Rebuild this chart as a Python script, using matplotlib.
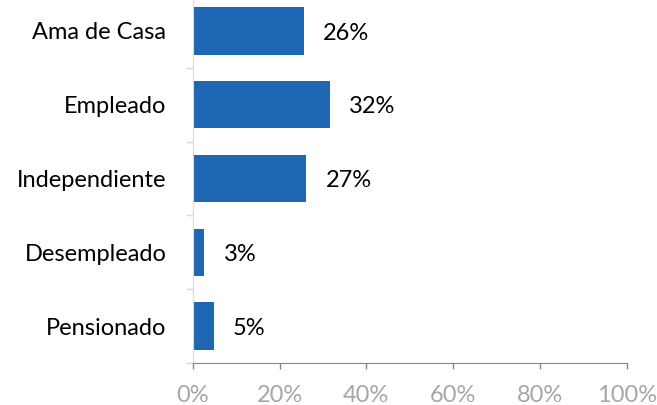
import numpy as np
import matplotlib.pyplot as plt
import matplotlib.transforms as mtransforms
from matplotlib.ticker import FixedLocator, PercentFormatter

plt.rcParams['font.family'] = ['Lato', 'DejaVu Sans']

categories = ['Ama de Casa', 'Empleado', 'Independiente', 'Desempleado', 'Pensionado']
values = [25.6, 31.6, 26.1, 2.6, 4.8]
labels = ['26%', '32%', '27%', '3%', '5%']

fig = plt.figure(figsize=(6.57, 4.05), dpi=100)
ax = fig.add_axes([0.2933, 0.1037, 0.6606, 0.911])

y = np.arange(len(categories))
ax.barh(y, values, height=0.64, color='#1f67b3')
ax.set_ylim(len(categories) - 0.5, -0.5)
ax.set_xlim(0, 100)

for yi, v, lab in zip(y, values, labels):
    ax.annotate(lab, (v, yi), xytext=(14, -1.5), textcoords='offset points',
                ha='left', va='center', fontsize=17, color='black')

ax.set_yticks(y)
ax.set_yticklabels(categories, fontsize=17)
shift = mtransforms.ScaledTranslation(0, -2.5 / 72, fig.dpi_scale_trans)
for t in ax.get_yticklabels():
    t.set_transform(t.get_transform() + shift)
ax.yaxis.set_minor_locator(FixedLocator(np.arange(len(categories) + 1) - 0.5))
ax.tick_params(axis='y', which='major', length=0, pad=19)
ax.tick_params(axis='y', which='minor', length=5, color='#d9d9d9', width=1)

ax.set_xticks(np.arange(0, 101, 20))
ax.xaxis.set_major_formatter(PercentFormatter(decimals=0))
ax.tick_params(axis='x', length=4, color='#868686', width=1, labelsize=17,
               labelcolor='#a6a6a6', pad=11.5)

for s in ['top', 'right']:
    ax.spines[s].set_visible(False)
ax.spines['left'].set_color('#d9d9d9')
ax.spines['bottom'].set_color('#868686')

fig.savefig('out.png', dpi=100)
